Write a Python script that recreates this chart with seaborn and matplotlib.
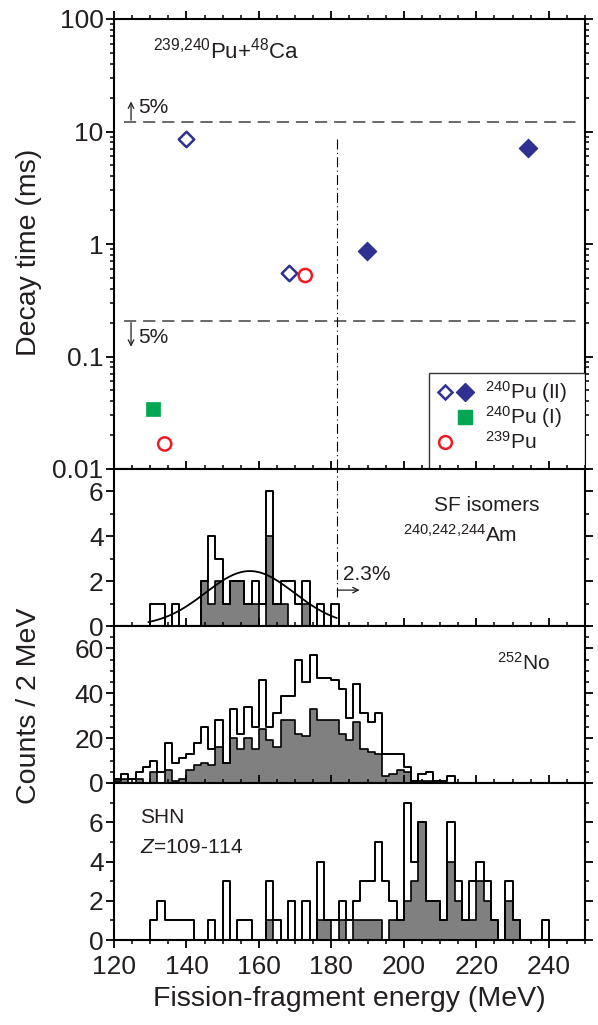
import numpy as np
import pandas as pd
import matplotlib
matplotlib.use("Agg")
import matplotlib.pyplot as plt
import seaborn as sns
from matplotlib.ticker import MultipleLocator, LogLocator, NullFormatter, FixedLocator, FixedFormatter
from matplotlib.patches import Rectangle

# ---------------- data ----------------
x_tick_values = [120, 140, 160, 180, 200, 220, 240]
x_range = (120, 250)

# top panel: decay time vs fission-fragment energy
pu240_II_open_E = [140.0, 168.4]
pu240_II_open_t = [8.5, 0.55]
pu240_II_fill_E = [189.9, 234.2]
pu240_II_fill_t = [0.86, 7.2]
pu240_I_E = [130.9]
pu240_I_t = [0.034]
pu239_E = [134.0, 172.8]
pu239_t = [0.0167, 0.525]
limit_hi = 12.1
limit_lo = 0.207
sep_E = 181.6
top_ticks = [0.01, 0.1, 1, 10, 100]
top_tick_labels = ["0.01", "0.1", "1", "10", "100"]

bin_w = 2
# SF isomers 240,242,244Am
am_open_start = 128
am_open = [0, 1, 1, 0, 1, 0, 0, 0, 2, 4, 3, 1, 2, 2, 1, 2, 1, 6, 1, 2, 2, 1, 2, 0, 1, 0, 1, 0]
am_fill_start = 142
am_fill = [0, 2, 1, 2, 1, 2, 2, 1, 1, 0, 4, 1, 1, 0, 0, 1, 0]
am_gauss_amp, am_gauss_mu, am_gauss_sigma = 2.45, 157.5, 12.2
am_gauss_range = (129.5, 181.5)

# 252No
no_open_start = 120
no_open = [2, 4, 2, 5, 7, 10, 5, 18, 9, 11, 13, 18, 25, 15, 28, 9, 33, 22, 34, 25,
           46, 25, 31, 39, 39, 55, 45, 57, 47, 47, 46, 42, 29, 44, 31, 27, 31, 13,
           13, 13, 7, 1, 4, 5, 1, 1, 3, 0]
no_fill_start = 120
no_fill = [1, 2, 0, 2, 0, 5, 0, 6, 1, 2, 6, 8, 9, 8, 16, 9, 20, 15, 20, 15,
           24, 19, 16, 28, 28, 22, 21, 33, 28, 28, 28, 22, 19, 27, 15, 14, 13, 3,
           4, 6, 5, 0, 1, 1, 0, 0, 0, 0]

# SHN Z=109-114
shn_open_start = 128
shn_open = [0, 1, 2, 1, 1, 1, 1, 0, 0, 1, 0, 3, 0, 1, 1, 0, 0, 3, 1, 0, 2, 0, 2, 0,
            4, 1, 1, 2, 1, 2, 3, 3, 5, 3, 2, 1, 7, 4, 6, 2, 2, 1, 6, 3, 1, 3, 4, 3,
            1, 0, 3, 1, 0, 0, 0, 1, 0]
shn_fill_start = 160
shn_fill = [0, 1, 0, 0, 0, 0, 0, 0, 1, 1, 0, 1, 0, 1, 1, 1, 1, 0, 1, 1, 2, 3, 6, 2,
            2, 1, 4, 2, 1, 1, 3, 2, 1, 0, 2, 1, 0]

# ---------------- style ----------------
sns.set_style("ticks")
plt.rcParams["font.family"] = ["Liberation Sans", "DejaVu Sans"]
plt.rcParams["mathtext.fontset"] = "custom"
plt.rcParams["mathtext.rm"] = "Liberation Sans"
plt.rcParams["mathtext.it"] = "Liberation Sans:italic"
plt.rcParams["axes.linewidth"] = 1.5
plt.rcParams["xtick.major.width"] = 1.3
plt.rcParams["ytick.major.width"] = 1.3
plt.rcParams["xtick.minor.width"] = 1.1
plt.rcParams["ytick.minor.width"] = 1.1
plt.rcParams["xtick.major.size"] = 5.5
plt.rcParams["ytick.major.size"] = 5.5
plt.rcParams["xtick.minor.size"] = 3.2
plt.rcParams["ytick.minor.size"] = 3.2

TXT = "#231f20"
BLUE = "#2e3192"
GREEN = "#00a651"
RED = "#ed1c24"
GRAY = "#808080"
TICK_FS = 19
LAB_FS = 20.5
ANN_FS = 15

W, H = 598, 1025
fig = plt.figure(figsize=(W / 100, H / 100), dpi=100)


def px_axes(top, bottom, left=114, right=585):
    return fig.add_axes([left / W, 1 - bottom / H, (right - left) / W, (bottom - top) / H])


ax0 = px_axes(19, 469)
ax1 = px_axes(469, 626)
ax2 = px_axes(626, 783)
ax3 = px_axes(783, 940)
axes = [ax0, ax1, ax2, ax3]

# ---------------- top panel ----------------
ax0.set_yscale("log")
ax0.hlines([limit_hi, limit_lo], 122.8, 248, colors="#404040", linewidth=1.1,
           linestyles=(0, (8, 4.5)), zorder=1)
ax0.axvline(sep_E, ymin=0, ymax=(np.log10(8.9) + 2) / 4, color="black",
            linewidth=0.8, linestyle=(0, (9, 3, 1, 3)), zorder=1)

df_open = pd.DataFrame({"E": pu240_II_open_E, "t": pu240_II_open_t})
df_fill = pd.DataFrame({"E": pu240_II_fill_E, "t": pu240_II_fill_t})
df_I = pd.DataFrame({"E": pu240_I_E, "t": pu240_I_t})
df_239 = pd.DataFrame({"E": pu239_E, "t": pu239_t})
sns.scatterplot(data=df_open, x="E", y="t", marker="D", s=62, facecolor="white",
                edgecolor=BLUE, linewidth=1.8, ax=ax0, zorder=3)
sns.scatterplot(data=df_fill, x="E", y="t", marker="D", s=85, color=BLUE,
                edgecolor=BLUE, linewidth=1.0, ax=ax0, zorder=3)
sns.scatterplot(data=df_I, x="E", y="t", marker="s", s=95, color=GREEN,
                edgecolor=GREEN, linewidth=0.5, ax=ax0, zorder=3)
sns.scatterplot(data=df_239, x="E", y="t", marker="o", s=90, facecolor="none",
                edgecolor=RED, linewidth=1.8, ax=ax0, zorder=3)

ax0.set_ylim(0.01, 100)
ax0.yaxis.set_major_locator(FixedLocator(top_ticks))
ax0.yaxis.set_major_formatter(FixedFormatter(top_tick_labels))
ax0.yaxis.set_minor_locator(LogLocator(base=10, subs=np.arange(2, 10)))
ax0.yaxis.set_minor_formatter(NullFormatter())

ax0.text(0.083, 0.931, r"$^{239{,}240}$Pu+$^{48}$Ca", transform=ax0.transAxes,
         fontsize=ANN_FS + 1, color=TXT, va="center", ha="left")

# 5% arrows
ax0.annotate("", xy=(124.7, 18.5), xytext=(124.7, 12.6),
             arrowprops=dict(arrowstyle="->", lw=0.9, color=TXT, shrinkA=0, shrinkB=0))
ax0.text(126.7, 16.2, "5%", fontsize=ANN_FS, color=TXT, va="center", ha="left")
ax0.annotate("", xy=(124.7, 0.122), xytext=(124.7, 0.2),
             arrowprops=dict(arrowstyle="->", lw=0.9, color=TXT, shrinkA=0, shrinkB=0))
ax0.text(126.7, 0.148, "5%", fontsize=ANN_FS, color=TXT, va="center", ha="left")

# legend box (manual)
ax0.add_patch(Rectangle((0.669, 0.0), 0.331, 0.213, transform=ax0.transAxes,
                        facecolor="white", edgecolor="#333333", linewidth=1.0, zorder=4))
ax0.plot([0.703], [0.172], marker="D", ms=7.6, mfc="white", mec=BLUE, mew=1.8,
         transform=ax0.transAxes, zorder=5, ls="none")
ax0.plot([0.746], [0.172], marker="D", ms=9, mfc=BLUE, mec=BLUE,
         transform=ax0.transAxes, zorder=5, ls="none")
ax0.plot([0.746], [0.116], marker="s", ms=9.5, mfc=GREEN, mec=GREEN,
         transform=ax0.transAxes, zorder=5, ls="none")
ax0.plot([0.703], [0.0607], marker="o", ms=9.2, mfc="none", mec=RED, mew=1.8,
         transform=ax0.transAxes, zorder=5, ls="none")
ax0.text(0.788, 0.172, r"$^{240}$Pu (II)", transform=ax0.transAxes, fontsize=ANN_FS,
         color=TXT, va="center", ha="left", zorder=5)
ax0.text(0.788, 0.116, r"$^{240}$Pu (I)", transform=ax0.transAxes, fontsize=ANN_FS,
         color=TXT, va="center", ha="left", zorder=5)
ax0.text(0.788, 0.0607, r"$^{239}$Pu", transform=ax0.transAxes, fontsize=ANN_FS,
         color=TXT, va="center", ha="left", zorder=5)


# ---------------- histograms ----------------
def draw_hist(ax, start, counts, filled):
    counts = [float(c) for c in counts]
    n = len(counts)
    centers = [start + bin_w * (i + 0.5) for i in range(n)]
    df = pd.DataFrame({"E": centers, "w": counts})
    rng = (float(start), float(start + bin_w * n))
    if filled:
        sns.histplot(data=df, x="E", weights="w", binwidth=bin_w, binrange=rng,
                     element="step", fill=True, color=GRAY, alpha=1,
                     edgecolor="black", linewidth=1.2, ax=ax, zorder=2)
    else:
        sns.histplot(data=df, x="E", weights="w", binwidth=bin_w, binrange=rng,
                     element="step", fill=False, color="black", linewidth=1.4,
                     ax=ax, zorder=3)


draw_hist(ax1, am_fill_start, am_fill, True)
draw_hist(ax1, am_open_start, am_open, False)
gx = np.linspace(am_gauss_range[0], am_gauss_range[1], 200)
gy = am_gauss_amp * np.exp(-0.5 * ((gx - am_gauss_mu) / am_gauss_sigma) ** 2)
sns.lineplot(x=gx, y=gy, color="black", linewidth=1.3, ax=ax1, zorder=4)
ax1.axvline(sep_E, ymin=1.3 / 7, ymax=1, color="black", linewidth=0.8,
            linestyle=(0, (9, 3, 1, 3)), zorder=1)
ax1.annotate("", xy=(187.8, 1.6), xytext=(sep_E, 1.6),
             arrowprops=dict(arrowstyle="->", lw=0.9, color=TXT, shrinkA=0, shrinkB=0))
ax1.text(183.3, 2.28, "2.3%", fontsize=ANN_FS, color=TXT, va="center", ha="left")
ax1.text(0.68, 0.77, "SF isomers", transform=ax1.transAxes, fontsize=ANN_FS,
         color=TXT, va="center", ha="left")
ax1.text(0.613, 0.58, r"$^{240{,}242{,}244}$Am", transform=ax1.transAxes, fontsize=ANN_FS,
         color=TXT, va="center", ha="left")
ax1.set_ylim(0, 7)
ax1.yaxis.set_major_locator(FixedLocator([0, 2, 4, 6]))
ax1.yaxis.set_minor_locator(MultipleLocator(1))

draw_hist(ax2, no_fill_start, no_fill, True)
draw_hist(ax2, no_open_start, no_open, False)
ax2.text(0.813, 0.764, r"$^{252}$No", transform=ax2.transAxes, fontsize=ANN_FS,
         color=TXT, va="center", ha="left")
ax2.set_ylim(0, 70)
ax2.yaxis.set_major_locator(FixedLocator([0, 20, 40, 60]))
ax2.yaxis.set_minor_locator(MultipleLocator(5))

draw_hist(ax3, shn_fill_start, shn_fill, True)
draw_hist(ax3, shn_open_start, shn_open, False)
ax3.text(0.055, 0.783, "SHN", transform=ax3.transAxes, fontsize=ANN_FS,
         color=TXT, va="center", ha="left")
ax3.text(0.055, 0.59, r"$\mathit{Z}$=109-114", transform=ax3.transAxes, fontsize=ANN_FS,
         color=TXT, va="center", ha="left")
ax3.set_ylim(0, 8)
ax3.yaxis.set_major_locator(FixedLocator([0, 2, 4, 6]))
ax3.yaxis.set_minor_locator(MultipleLocator(1))

# ---------------- common axes ----------------
for i, ax in enumerate(axes):
    ax.set_xlim(*x_range)
    ax.xaxis.set_major_locator(FixedLocator(x_tick_values))
    ax.xaxis.set_minor_locator(MultipleLocator(5))
    ax.set_xlabel("")
    ax.set_ylabel("")
    ax.tick_params(which="both", direction="out", top=True, right=True,
                   labelsize=TICK_FS, colors="black", labelcolor=TXT, pad=2)
    ax.tick_params(axis="x", labelbottom=(i == 3), pad=5)
    for sp in ax.spines.values():
        sp.set_visible(True)
        sp.set_linewidth(1.5)
        sp.set_color("black")

ax3.set_xlabel("Fission-fragment energy (MeV)", fontsize=LAB_FS, color=TXT, labelpad=5)
fig.text(29 / W, 1 - 252 / H, "Decay time (ms)", rotation=90, fontsize=LAB_FS,
         color=TXT, va="center", ha="center")
fig.text(29 / W, 1 - 706 / H, "Counts / 2 MeV", rotation=90, fontsize=LAB_FS,
         color=TXT, va="center", ha="center")

fig.savefig("out.png", dpi=100)
